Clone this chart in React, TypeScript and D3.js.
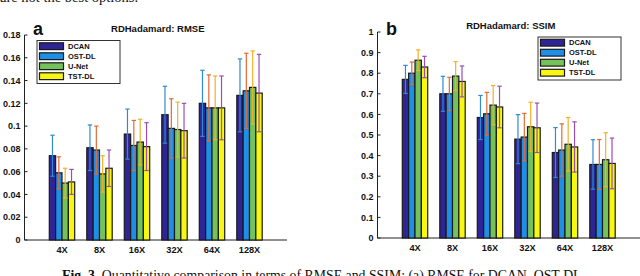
import * as d3 from "d3";

const categories = ["4X", "8X", "16X", "32X", "64X", "128X"];
const seriesNames = ["DCAN", "OST-DL", "U-Net", "TST-DL"];
const barColors = ["#2f2496", "#1e8fe6", "#76c25a", "#f7f712"];
const errColors = ["#2f8ad0", "#e06a36", "#efb22c", "#9a4fb0"];

// RMSE means and error half-widths
const rmseDCAN = [0.074, 0.081, 0.093, 0.11, 0.12, 0.127];
const rmseOST = [0.059, 0.079, 0.083, 0.098, 0.116, 0.131];
const rmseUNet = [0.05, 0.058, 0.086, 0.097, 0.116, 0.134];
const rmseTST = [0.051, 0.063, 0.082, 0.096, 0.116, 0.129];
const rmseErrDCAN = [0.018, 0.02, 0.022, 0.025, 0.029, 0.032];
const rmseErrOST = [0.014, 0.021, 0.022, 0.026, 0.029, 0.033];
const rmseErrUNet = [0.013, 0.016, 0.02, 0.024, 0.028, 0.032];
const rmseErrTST = [0.011, 0.016, 0.021, 0.024, 0.028, 0.034];
const rmseTicks = [0, 0.02, 0.04, 0.06, 0.08, 0.1, 0.12, 0.14, 0.16, 0.18];

// SSIM means and error half-widths
const ssimDCAN = [0.77, 0.7, 0.585, 0.48, 0.415, 0.357];
const ssimOST = [0.8, 0.7, 0.603, 0.49, 0.427, 0.357];
const ssimUNet = [0.863, 0.786, 0.645, 0.54, 0.455, 0.38];
const ssimTST = [0.83, 0.76, 0.636, 0.535, 0.442, 0.362];
const ssimErrDCAN = [0.068, 0.085, 0.107, 0.119, 0.121, 0.12];
const ssimErrOST = [0.054, 0.08, 0.104, 0.115, 0.127, 0.121];
const ssimErrUNet = [0.05, 0.07, 0.095, 0.119, 0.13, 0.131];
const ssimErrTST = [0.052, 0.075, 0.101, 0.12, 0.122, 0.123];
const ssimTicks = [0, 0.1, 0.2, 0.3, 0.4, 0.5, 0.6, 0.7, 0.8, 0.9, 1];

const sans = "'Liberation Sans', Arial, sans-serif";
const serif = "'Liberation Serif', 'Times New Roman', serif";

function Panel({
    means,
    errs,
    ticks,
    left,
    top,
    bottom,
    letter,
    title,
    titleY,
    legendX,
    legendY,
}: any) {
    const x0 = d3.scaleLinear([0, 7], [left, left + 7 * 37.5]);
    const x1 = d3.scaleBand(seriesNames, [-12.7, 12.7]).padding(0);
    const y = d3.scaleLinear([0, ticks[ticks.length - 1]], [bottom, top]);
    const bw = x1.bandwidth();

    return (
        <g fontFamily={sans}>
            {/* axes */}
            <line x1={x0(0)} x2={x0(7)} y1={y(0)} y2={y(0)} stroke="#222" strokeWidth={1} />
            <line x1={x0(0)} x2={x0(0)} y1={y(0)} y2={y(ticks[ticks.length - 1])} stroke="#222" strokeWidth={1} />
            {ticks.map((t: number) => (
                <g key={t}>
                    <line x1={x0(0)} x2={x0(0) + 3} y1={y(t)} y2={y(t)} stroke="#222" />
                    <text x={x0(0) - 4} y={y(t) + 3.2} textAnchor="end" fontSize={9} fontWeight="bold" fill="#111">
                        {String(t)}
                    </text>
                </g>
            ))}
            {categories.map((c, i) => (
                <text key={c} x={x0(i + 1)} y={y(0) + 13} textAnchor="middle" fontSize={9.2} fontWeight="bold" fill="#111">
                    {c}
                </text>
            ))}
            {/* bars */}
            {seriesNames.map((s, k) =>
                means[k].map((v: number, i: number) => (
                    <rect
                        key={s + i}
                        x={x0(i + 1) + (x1(s) as number)}
                        y={y(v)}
                        width={bw}
                        height={y(0) - y(v)}
                        fill={barColors[k]}
                        stroke="#1a1a1a"
                        strokeWidth={1.2}
                    />
                ))
            )}
            {/* error bars */}
            {seriesNames.map((s, k) =>
                means[k].map((v: number, i: number) => {
                    const cx = x0(i + 1) + (x1(s) as number) + bw / 2;
                    const lo = y(v - errs[k][i]);
                    const hi = y(v + errs[k][i]);
                    return (
                        <g key={s + i} stroke={errColors[k]} strokeWidth={1.2}>
                            <line x1={cx} x2={cx} y1={lo} y2={hi} />
                            <line x1={cx - 2.2} x2={cx + 2.2} y1={lo} y2={lo} />
                            <line x1={cx - 2.2} x2={cx + 2.2} y1={hi} y2={hi} />
                        </g>
                    );
                })
            )}
            {/* title and panel letter */}
            <text x={(x0(0) + x0(7)) / 2 + 2} y={titleY} textAnchor="middle" fontSize={9.5} fontWeight="bold" fill="#111">
                {title}
            </text>
            <text x={left + 8.5} y={35} fontSize={18} fontWeight="bold" fill="#111">
                {letter}
            </text>
            {/* legend */}
            <g transform={`translate(${legendX},${legendY})`}>
                <rect x={0} y={0} width={83} height={43} fill="white" stroke="#333" strokeWidth={1} />
                {seriesNames.map((s, k) => (
                    <g key={s} transform={`translate(0,${5.5 + k * 10})`}>
                        <rect x={2.5} y={-3.2} width={24} height={6.8} fill={barColors[k]} stroke="#1a1a1a" strokeWidth={1.2} />
                        <text x={31} y={2.7} fontSize={7.5} fontWeight="bold" fill="#111">
                            {s}
                        </text>
                    </g>
                ))}
            </g>
        </g>
    );
}

export default function App() {
    return (
        <svg width={640} height={276} style={{ position: "absolute", left: 0, top: 0, background: "white" }}>
            <text x={0} y={2} fontFamily={serif} fontSize={14.5} fill="#111">
                are not the best options.
            </text>
            <Panel
                means={[rmseDCAN, rmseOST, rmseUNet, rmseTST]}
                errs={[rmseErrDCAN, rmseErrOST, rmseErrUNet, rmseErrTST]}
                ticks={rmseTicks}
                left={24.5}
                top={35}
                bottom={240}
                letter="a"
                title="RDHadamard: RMSE"
                titleY={31.5}
                legendX={37}
                legendY={40.5}
            />
            <Panel
                means={[ssimDCAN, ssimOST, ssimUNet, ssimTST]}
                errs={[ssimErrDCAN, ssimErrOST, ssimErrUNet, ssimErrTST]}
                ticks={ssimTicks}
                left={377.5}
                top={32}
                bottom={238}
                letter="b"
                title="RDHadamard: SSIM"
                titleY={28.5}
                legendX={538}
                legendY={37}
            />
            <text x={62} y={279.5} fontFamily={serif} fontSize={13.8} fill="#111">
                <tspan fontWeight="bold">Fig. 3.</tspan> Quantitative comparison in terms of RMSE and SSIM: (a) RMSE for DCAN, OST-DL,
            </text>
        </svg>
    );
}
